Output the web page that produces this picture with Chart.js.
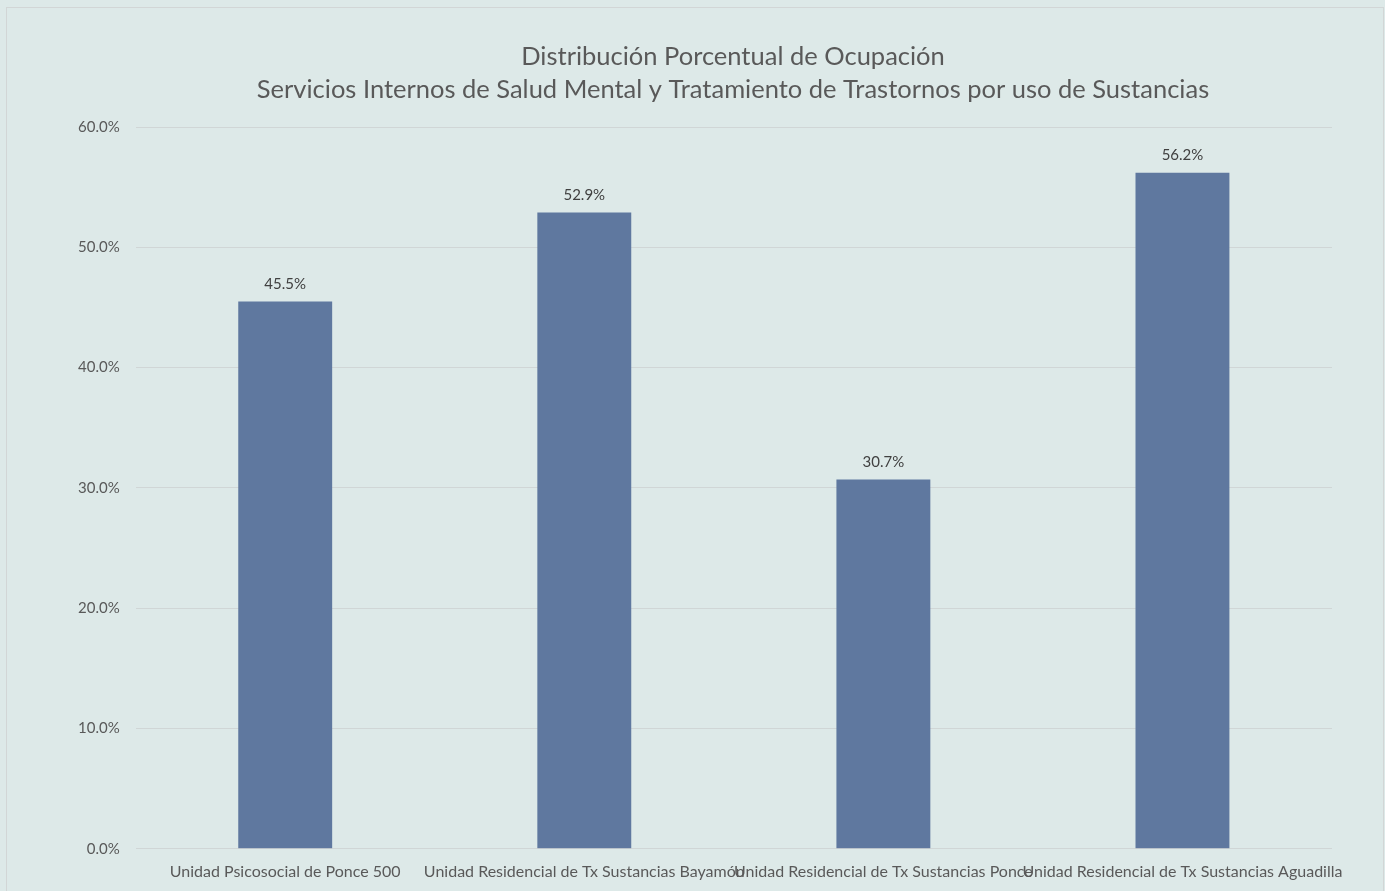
<!DOCTYPE html>
<html>
<head>
<meta charset="utf-8">
<script src="https://cdn.jsdelivr.net/npm/chart.js@4"></script>
<style>
  html, body { margin: 0; padding: 0; background: #dde9e8; overflow: hidden; width: 1385px; height: 891px; }
  #wrap { position: absolute; left: 6px; top: 7px; width: 1378px; height: 888px; border-left: 1px solid #d2d6d6; border-top: 1px solid #d2d6d6; border-right: 1px solid #d2d6d6; box-sizing: border-box; }
  canvas { display: block; }
</style>
</head>
<body>
<div id="wrap"><canvas id="c"></canvas></div>
<script>
const categories = [
  "Unidad Psicosocial de Ponce 500",
  "Unidad Residencial de Tx Sustancias Bayamón",
  "Unidad Residencial de Tx Sustancias Ponce",
  "Unidad Residencial de Tx Sustancias Aguadilla"
];
const occupancy = [45.5, 52.9, 30.7, 56.2];
const titleLines = [
  "Distribución Porcentual de Ocupación",
  "Servicios Internos de Salud Mental y Tratamiento de Trastornos por uso de Sustancias"
];

const FONT = "Lato, 'Open Sans', sans-serif";

const valueLabels = {
  id: 'valueLabels',
  afterDatasetsDraw(chart) {
    const ctx = chart.ctx;
    const meta = chart.getDatasetMeta(0);
    ctx.save();
    ctx.font = "15px " + FONT;
    ctx.fillStyle = "#404040";
    ctx.textAlign = "center";
    ctx.textBaseline = "bottom";
    meta.data.forEach((bar, i) => {
      ctx.fillText(occupancy[i].toFixed(1) + "%", bar.x, bar.y - 10);
    });
    ctx.restore();
  }
};

const titleText = {
  id: 'titleText',
  afterDraw(chart) {
    const ctx = chart.ctx;
    ctx.save();
    ctx.font = "25.5px " + FONT;
    ctx.fillStyle = "#595959";
    ctx.textAlign = "center";
    ctx.textBaseline = "middle";
    titleLines.forEach((line, i) => {
      ctx.fillText(line, 726, 49 + i * 33);
    });
    ctx.restore();
  }
};

new Chart(document.getElementById('c'), {
  type: 'bar',
  data: {
    labels: categories,
    datasets: [{
      data: occupancy,
      backgroundColor: '#5f789f',
      categoryPercentage: 1.0,
      barPercentage: 0.314
    }]
  },
  options: {
    responsive: true,
    maintainAspectRatio: false,
    animation: false,
    layout: { padding: { left: 55, right: 51, top: 119, bottom: 1 } },
    plugins: {
      legend: { display: false },
      tooltip: { enabled: false },
      title: { display: false }
    },
    scales: {
      x: {
        grid: { display: false, drawTicks: false },
        border: { display: false },
        ticks: {
          autoSkip: false, maxRotation: 0, minRotation: 0,
          color: '#595959',
          font: { family: FONT, size: 16 },
          padding: 13
        }
      },
      y: {
        min: 0, max: 60,
        ticks: {
          stepSize: 10,
          color: '#595959',
          font: { family: FONT, size: 15 },
          padding: 16,
          callback: v => v.toFixed(1) + "%"
        },
        grid: { color: '#d0d6d6', drawTicks: false },
        border: { display: false }
      }
    }
  },
  plugins: [valueLabels, titleText]
});
</script>
</body>
</html>
